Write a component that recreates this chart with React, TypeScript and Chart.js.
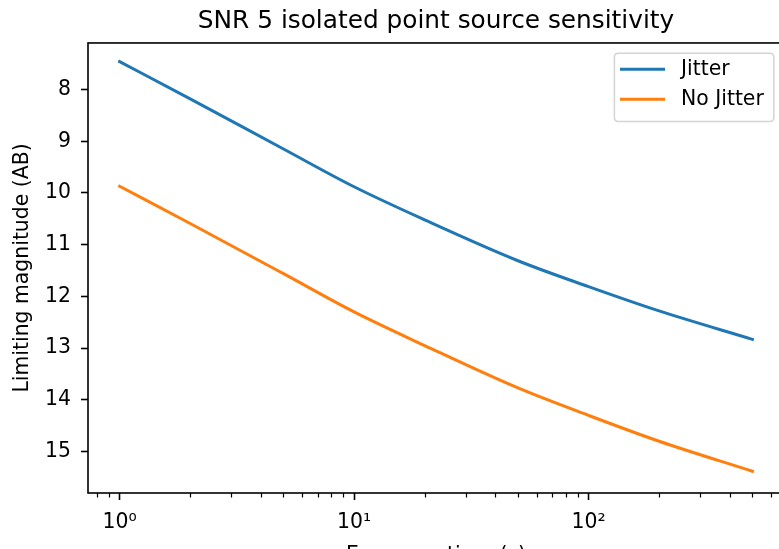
import React, { useEffect, useRef } from 'react';
import { Chart, registerables } from 'chart.js';

Chart.register(...registerables);

// ---- data ----
const exposureTimes = [1, 2, 5, 10, 20, 50, 100, 200, 500];
const jitterMag = [7.46, 8.18, 9.15, 9.88, 10.52, 11.31, 11.81, 12.28, 12.83];
const noJitterMag = [9.87, 10.59, 11.56, 12.3, 12.95, 13.77, 14.3, 14.8, 15.38];
const seriesLabels = ['Jitter', 'No Jitter'];
const seriesColors = ['#1f77b4', '#ff7f0e'];
const yTickValues = [8, 9, 10, 11, 12, 13, 14, 15];
const xMajorTicks = [1, 10, 100];
const xMajorLabels = ['10⁰', '10¹', '10²'];
const xMinorTicks = [0.8, 0.9, 2, 3, 4, 5, 6, 7, 8, 9, 20, 30, 40, 50, 60, 70, 80, 90, 200, 300, 400, 500, 600];
const titleText = 'SNR 5 isolated point source sensitivity';
const xTitle = 'Exposure time (s)';
const yTitle = 'Limiting magnitude (AB)';

const FONT = "'DejaVu Sans', 'Noto Sans', sans-serif";
const TICK_SIZE = 20.4;

const framePlugin = {
  id: 'frame',
  afterDraw(chart: any) {
    const { ctx, chartArea } = chart;
    ctx.save();
    ctx.strokeStyle = '#000';
    ctx.lineWidth = 1.6;
    ctx.strokeRect(chartArea.left, chartArea.top, chartArea.right - chartArea.left, chartArea.bottom - chartArea.top);
    // minor ticks on x axis
    const xs = chart.scales.x;
    ctx.lineWidth = 1.2;
    ctx.beginPath();
    xMinorTicks.forEach((v) => {
      const px = Math.round(xs.getPixelForValue(v)) + 0.5;
      if (px < chartArea.left || px > chartArea.right) return;
      ctx.moveTo(px, chartArea.bottom);
      ctx.lineTo(px, chartArea.bottom + 4.5);
    });
    ctx.stroke();
    ctx.restore();
  },
};

const legendPlugin = {
  id: 'mplLegend',
  afterDraw(chart: any) {
    const { ctx, chartArea } = chart;
    ctx.save();
    ctx.font = `${TICK_SIZE}px ${FONT}`;
    const datasets = chart.data.datasets;
    let maxW = 0;
    datasets.forEach((d: any) => {
      maxW = Math.max(maxW, ctx.measureText(d.label).width);
    });
    const textOffset = 66.6;
    const boxW = textOffset + maxW + 10;
    const boxH = 68.4;
    const right = chartArea.right - 10.2;
    const top = chartArea.top + 10.2;
    const left = right - boxW;
    const r = 4;
    ctx.beginPath();
    ctx.moveTo(left + r, top);
    ctx.lineTo(right - r, top);
    ctx.quadraticCurveTo(right, top, right, top + r);
    ctx.lineTo(right, top + boxH - r);
    ctx.quadraticCurveTo(right, top + boxH, right - r, top + boxH);
    ctx.lineTo(left + r, top + boxH);
    ctx.quadraticCurveTo(left, top + boxH, left, top + boxH - r);
    ctx.lineTo(left, top + r);
    ctx.quadraticCurveTo(left, top, left + r, top);
    ctx.closePath();
    ctx.fillStyle = 'rgba(255,255,255,0.8)';
    ctx.fill();
    ctx.strokeStyle = '#d4d4d4';
    ctx.lineWidth = 1.5;
    ctx.stroke();
    datasets.forEach((d: any, i: number) => {
      const y = top + 16 + i * 30;
      ctx.strokeStyle = d.borderColor;
      ctx.lineWidth = 3;
      ctx.beginPath();
      ctx.moveTo(left + 5.6, y);
      ctx.lineTo(left + 50.6, y);
      ctx.stroke();
      ctx.fillStyle = '#000';
      ctx.textBaseline = 'middle';
      ctx.textAlign = 'left';
      ctx.fillText(d.label, left + textOffset, y + 1);
    });
    ctx.restore();
  },
};

export default function App() {
  const canvasRef = useRef<HTMLCanvasElement | null>(null);

  useEffect(() => {
    document.body.style.margin = '0';
    const canvas = canvasRef.current;
    if (!canvas) return;
    const series = [jitterMag, noJitterMag];
    const chart = new Chart(canvas, {
      type: 'line',
      data: {
        datasets: series.map((vals, si) => ({
          label: seriesLabels[si],
          data: exposureTimes.map((t, i) => ({ x: t, y: vals[i] })),
          borderColor: seriesColors[si],
          backgroundColor: seriesColors[si],
          borderWidth: 3,
          borderCapStyle: 'square',
          pointRadius: 0,
          fill: false,
          cubicInterpolationMode: 'monotone',
        })),
      },
      options: {
        responsive: false,
        animation: false,
        devicePixelRatio: 1,
        layout: { padding: { left: 0, right: 6, top: 0, bottom: 0 } },
        plugins: {
          legend: { display: false },
          tooltip: { enabled: false },
          title: {
            display: true,
            text: titleText,
            color: '#000',
            fullSize: false,
            font: { family: FONT, size: 24.8, weight: 'normal', lineHeight: 1.2 },
            padding: { top: 6.6, bottom: 6.6 },
          },
        },
        scales: {
          x: {
            type: 'logarithmic',
            position: 'bottom',
            bounds: 'data',
            min: 0.733,
            max: 682,
            afterBuildTicks: (s: any) => {
              s.ticks = xMajorTicks.map((v) => ({ value: v }));
            },
            afterDataLimits: (s: any) => {
              s.min = 0.733;
              s.max = 682;
            },
            afterFit: (s: any) => {
              s.height = 87;
            },
            ticks: {
              autoSkip: false,
              maxRotation: 0,
              minRotation: 0,
              padding: 10,
              color: '#000',
              font: { family: FONT, size: TICK_SIZE },
              callback: (v: any) => {
                const idx = xMajorTicks.indexOf(Number(v));
                return idx >= 0 ? xMajorLabels[idx] : '';
              },
            },
            grid: {
              drawOnChartArea: false,
              drawTicks: true,
              tickLength: 7,
              tickWidth: 1.6,
              tickColor: '#000',
            },
            border: { display: false },
            title: {
              display: true,
              text: xTitle,
              color: '#000',
              font: { family: FONT, size: TICK_SIZE, lineHeight: 1.2 },
              padding: { top: 0, bottom: 12.5 },
            },
          },
          y: {
            type: 'linear',
            reverse: true,
            min: 7.1,
            max: 15.8,
            afterBuildTicks: (s: any) => {
              s.ticks = yTickValues.map((v) => ({ value: v }));
            },
            afterFit: (s: any) => {
              s.width = 88;
            },
            ticks: {
              padding: 10,
              color: '#000',
              font: { family: FONT, size: TICK_SIZE },
              callback: (v: any) => String(v),
            },
            grid: {
              drawOnChartArea: false,
              drawTicks: true,
              tickLength: 7,
              tickWidth: 1.6,
              tickColor: '#000',
            },
            border: { display: false },
            title: {
              display: true,
              text: yTitle,
              color: '#000',
              font: { family: FONT, size: TICK_SIZE, lineHeight: 1.2 },
              padding: { top: 10.8, bottom: 0 },
            },
          },
        },
      } as any,
      plugins: [framePlugin, legendPlugin],
    });
    return () => chart.destroy();
  }, []);

  return (
    <div style={{ position: 'fixed', left: 0, top: 0, width: 779, height: 549, overflow: 'hidden', background: '#fff' }}>
      <canvas ref={canvasRef} width={790} height={580} style={{ width: 790, height: 580, display: 'block' }} />
    </div>
  );
}
